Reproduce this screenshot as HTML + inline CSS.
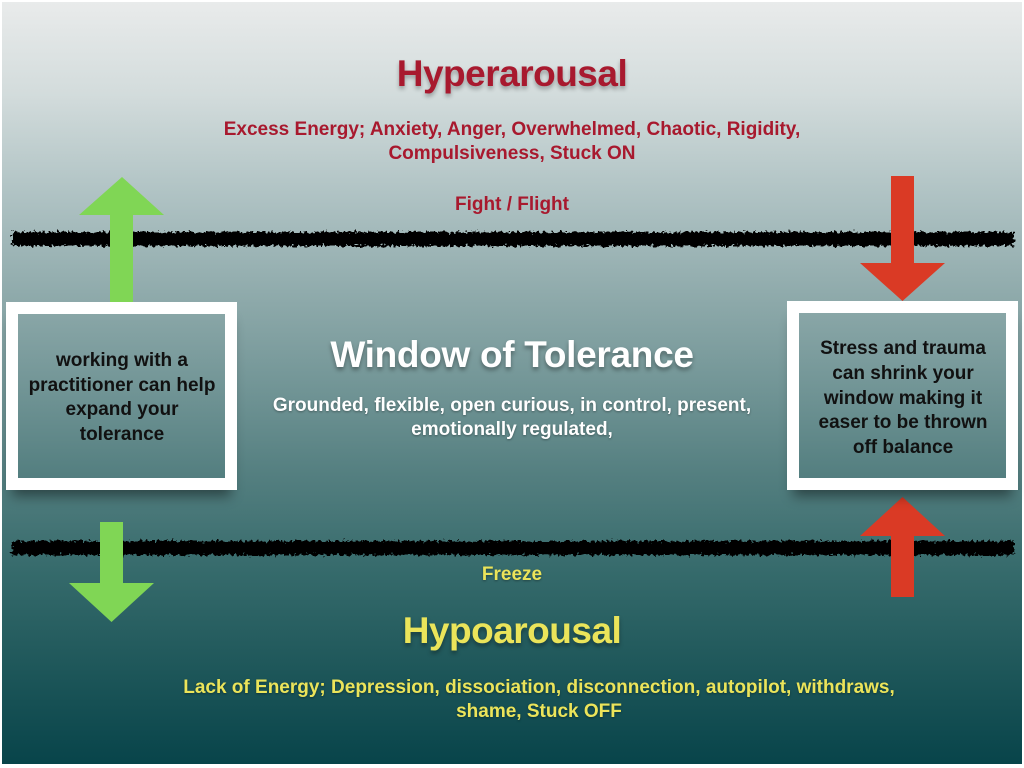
<!DOCTYPE html>
<html>
<head>
<meta charset="utf-8">
<style>
  html,body{margin:0;padding:0;background:#fff;}
  body{width:1024px;height:768px;position:relative;overflow:hidden;font-family:"Liberation Sans",Arial,sans-serif;}
  .slide{position:absolute;left:2px;top:2px;width:1020px;height:762px;
    background:linear-gradient(to bottom,#e9ebeb 0%,#d3dcdc 12%,#b0c3c4 25%,#90abac 38%,#739697 50%,#547f80 62%,#356a6b 75%,#1d5659 88%,#08444a 100%);}
  svg.shapes{position:absolute;left:0;top:0;}
  .t{position:absolute;font-weight:bold;text-align:center;white-space:nowrap;}
  .red{color:#a8192e;}
  .yel{color:#ebe45a;text-shadow:0 1px 2px rgba(0,0,0,0.35);}
  .wht{color:#fff;text-shadow:0 1px 2px rgba(0,0,0,0.35);}
  .title{font-size:37px;line-height:44px;}
  .sub{font-size:19px;line-height:24px;}
  .box{position:absolute;border:12px solid #fff;box-sizing:border-box;
    box-shadow:0 12px 12px -6px rgba(0,0,0,0.45);}
  .bt{position:absolute;font-weight:bold;font-size:19px;color:#111;text-align:center;white-space:nowrap;}
</style>
</head>
<body>
<div class="slide"></div>
<svg class="shapes" width="1024" height="768" viewBox="0 0 1024 768">
  <defs>
    <filter id="rough" x="-2%" y="-150%" width="104%" height="400%">
      <feTurbulence type="fractalNoise" baseFrequency="0.35" numOctaves="2" seed="4" result="n"/>
      <feDisplacementMap in="SourceGraphic" in2="n" scale="8" xChannelSelector="R" yChannelSelector="G"/>
    </filter>
  </defs>
  <!-- scribble lines -->
  <rect x="12" y="232" width="1002" height="14" fill="#000" filter="url(#rough)"/>
  <rect x="12" y="541" width="1002" height="14" fill="#000" filter="url(#rough)"/>
  <!-- green arrows -->
  <polygon points="122,177 164,215 133,215 133,304 110,304 110,215 79,215" fill="#80d655"/>
  <polygon points="100,522 123,522 123,583 154,583 111.5,622 69,583 100,583" fill="#80d655"/>
  <!-- red arrows -->
  <polygon points="891,176 914,176 914,263 945,263 902.5,301 860,263 891,263" fill="#da3a25"/>
  <polygon points="902.5,497 945,536 914,536 914,597 891,597 891,536 860,536" fill="#da3a25"/>
</svg>

<div class="box" style="left:6px;top:302px;width:231px;height:188px;"></div>
<div class="box" style="left:787px;top:301px;width:231px;height:189px;"></div>

<div class="bt" style="left:18px;width:208px;top:349px;line-height:24.5px;">working with a<br>practitioner can help<br>expand your<br>tolerance</div>
<div class="bt" style="left:799px;width:208px;top:337px;line-height:24.75px;">Stress and trauma<br>can shrink your<br>window making it<br>easer to be thrown<br>off balance</div>

<div class="t title red" style="left:0;width:1024px;top:52px;letter-spacing:-0.5px;text-shadow:0 3px 4px rgba(0,0,0,0.3);">Hyperarousal</div>
<div class="t sub red" style="left:0;width:1024px;top:118px;">Excess Energy; Anxiety, Anger, Overwhelmed, Chaotic, Rigidity,<br>Compulsiveness, Stuck ON</div>
<div class="t sub red" style="left:0;width:1024px;top:193px;">Fight / Flight</div>

<div class="t title wht" style="left:0;width:1024px;top:333px;letter-spacing:-0.3px;text-shadow:0 3px 4px rgba(0,0,0,0.35);">Window of Tolerance</div>
<div class="t sub wht" style="left:0;width:1024px;top:394px;">Grounded, flexible, open curious, in control, present,<br>emotionally regulated,</div>

<div class="t sub yel" style="left:0;width:1024px;top:563px;">Freeze</div>
<div class="t title yel" style="left:0;width:1024px;top:609px;letter-spacing:-0.5px;text-shadow:0 3px 4px rgba(0,0,0,0.35);">Hypoarousal</div>
<div class="t sub yel" style="left:0;width:1078px;top:676px;">Lack of Energy; Depression, dissociation, disconnection, autopilot, withdraws,<br>shame, Stuck OFF</div>
</body>
</html>
